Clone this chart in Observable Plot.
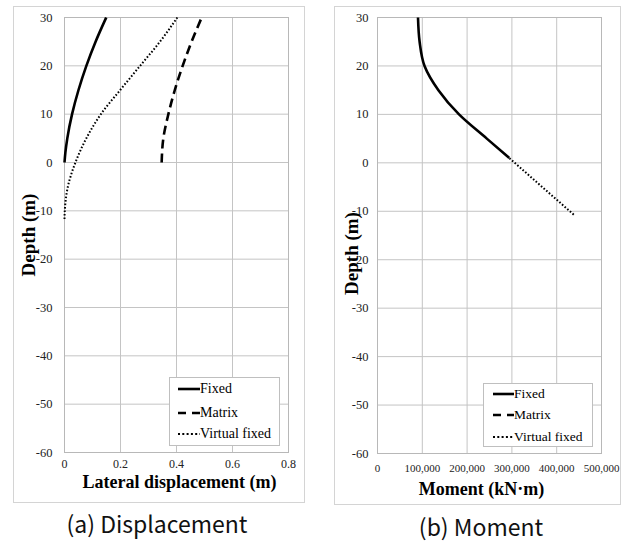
<!DOCTYPE html>
<html><head><meta charset="utf-8">
<script src="https://cdn.jsdelivr.net/npm/d3@7"></script>
<script src="https://cdn.jsdelivr.net/npm/@observablehq/plot@0.6"></script>
<style>
body{margin:0;background:#fff;}
#root{position:relative;width:632px;height:543px;overflow:hidden;background:#fff;}
.box{position:absolute;border:1px solid #d4d4d4;box-sizing:border-box;pointer-events:none;}
.panel{position:absolute;}
.panel svg text{font-family:"Liberation Serif",serif;}
.legend{position:absolute;background:#fff;border:1px solid #bfbfbf;box-sizing:border-box;font-family:"Liberation Serif",serif;color:#000;}
.legend .row{position:absolute;left:0;height:18px;margin-top:-9px;display:flex;align-items:center;white-space:nowrap;}
.caption{position:absolute;font-family:"Noto Sans CJK KR","Noto Sans",sans-serif;font-size:23px;line-height:1;color:#111;white-space:nowrap;transform:translate(-50%,-50%);}
</style>
</head><body>
<div id="root"></div>
<script>
// ---------- data ----------
const depthTicks = [-60, -50, -40, -30, -20, -10, 0, 10, 20, 30];
const dispTicks = [0, 0.2, 0.4, 0.6, 0.8];
const momentTicks = [0, 100000, 200000, 300000, 400000, 500000];
const seriesNames = ["Fixed", "Matrix", "Virtual fixed"];

// (a) displacement
const fixedA_depth = [0, 2, 5, 10, 15, 20, 25, 30];
const fixedA_disp = [0, 0.003, 0.01, 0.027, 0.05, 0.078, 0.111, 0.149];
const matrixA_depth = [0, 5, 10, 15, 20, 25, 30];
const matrixA_disp = [0.347, 0.353, 0.371, 0.394, 0.422, 0.454, 0.49];
const virtualA_depth = [-11.7, -10, -5, 0, 5, 10, 15, 20, 25, 30];
const virtualA_disp = [0, 0.001, 0.012, 0.039, 0.078, 0.13, 0.199, 0.27, 0.341, 0.403];

// (b) moment
const fixedB_depth = [1, 5, 10, 15, 20, 25, 30];
const fixedB_moment = [294000, 244000, 182000, 136000, 105000, 94000, 90400];
const virtualB_depth = [-10.7, 1];
const virtualB_moment = [438000, 294000];

// ---------- helpers ----------
const FONT = "Liberation Serif";
const styles = {
  "Fixed": {strokeWidth: 2.6, strokeDasharray: null},
  "Matrix": {strokeWidth: 2.6, strokeDasharray: "9,5"},
  "Virtual fixed": {strokeWidth: 2, strokeDasharray: "1.6,1.9"}
};
const rows = (depths, vals) => depths.map((d, i) => ({depth: d, v: vals[i]}));
const root = document.getElementById("root");

function lineMark(data, name) {
  const s = styles[name];
  return Plot.line(data, {x: "v", y: "depth", stroke: "#000", strokeWidth: s.strokeWidth,
    strokeDasharray: s.strokeDasharray, strokeLinecap: "butt", curve: "monotone-y"});
}

function makePanel(o) {
  const marks = [
    Plot.gridX(o.xTicks, {stroke: "#c4c4c4", strokeOpacity: 1}),
    Plot.gridY(depthTicks, {stroke: "#c4c4c4", strokeOpacity: 1}),
    Plot.frame({stroke: "#b8b8b8"}),
    Plot.axisX(o.xTicks, {tickSize: 0, tickPadding: o.xPad, fontSize: o.xFont, fontFamily: FONT, tickFormat: o.xFormat, label: null, fill: "#222"}),
    Plot.axisY(depthTicks, {tickSize: 0, tickPadding: o.yPad, fontSize: o.yFont, fontFamily: FONT, tickFormat: d => String(d), label: null, fill: "#222"}),
    ...o.lines,
    Plot.text([o.xTitle], {frameAnchor: "bottom", dx: o.xtDx, dy: o.xtDy, text: d => d, fontWeight: "bold", fontSize: o.xtFont, fontFamily: FONT, fill: "#000"}),
    Plot.text(["Depth (m)"], {frameAnchor: "left", textAnchor: "middle", rotate: -90, dx: o.ytDx, dy: o.ytDy, text: d => d, fontWeight: "bold", fontSize: 19, fontFamily: FONT, fill: "#000"})
  ];
  const svg = Plot.plot({
    width: o.width, height: o.height,
    marginLeft: o.ml, marginRight: o.mr, marginTop: o.mt, marginBottom: o.mb,
    x: {domain: o.xDomain},
    y: {domain: [-60, 30]},
    style: {fontFamily: FONT, background: "transparent", overflow: "visible"},
    marks
  });
  const wrap = document.createElement("div");
  wrap.className = "panel";
  wrap.style.left = o.left + "px"; wrap.style.top = o.top + "px";
  wrap.appendChild(svg);
  root.appendChild(wrap);
  const box = document.createElement("div");
  box.className = "box";
  Object.assign(box.style, {left: o.left + "px", top: o.top + "px", width: o.width + "px", height: o.height + "px"});
  root.appendChild(box);
}

function makeLegend(o) {
  const lg = document.createElement("div");
  lg.className = "legend";
  Object.assign(lg.style, {left: o.left + "px", top: o.top + "px", width: o.w + "px", height: o.h + "px", fontSize: o.font + "px"});
  seriesNames.forEach((name, i) => {
    const r = document.createElement("div");
    r.className = "row";
    r.style.top = o.rows[i] + "px";
    r.style.left = o.sx + "px";
    const dash = name === "Matrix" ? "8,6" : name === "Virtual fixed" ? "2,2.3" : "";
    r.innerHTML = `<svg width="${o.sw}" height="6" style="display:block"><line x1="0" y1="3" x2="${o.sw}" y2="3" stroke="#000" stroke-width="${name === "Virtual fixed" ? 2 : 2.6}" ${dash ? `stroke-dasharray="${dash}"` : ""}/></svg><span>${name}</span>`;
    lg.appendChild(r);
  });
  root.appendChild(lg);
}

function caption(text, x, y) {
  const c = document.createElement("div");
  c.className = "caption";
  c.textContent = text;
  c.style.left = x + "px"; c.style.top = y + "px";
  root.appendChild(c);
}

// ---------- panel (a) ----------
makePanel({
  left: 13, top: 6, width: 292, height: 497, ml: 51, mr: 17, mt: 11, mb: 51,
  xDomain: [0, 0.8], xTicks: dispTicks, xFormat: d => d === 0 ? "0" : d3.format(".1f")(d),
  xFont: 12, yFont: 12.5, xPad: 7, yPad: 12,
  xTitle: "Lateral displacement (m)", xtFont: 18, xtDx: 3, xtDy: 35, ytDx: -36, ytDy: 0,
  lines: [
    lineMark(rows(fixedA_depth, fixedA_disp), "Fixed"),
    lineMark(rows(matrixA_depth, matrixA_disp), "Matrix"),
    lineMark(rows(virtualA_depth, virtualA_disp), "Virtual fixed")
  ]
});
makeLegend({left: 169, top: 377, w: 111, h: 69, font: 14, rows: [11, 35, 56], sx: 8, sw: 22});
caption("(a) Displacement", 157, 523);

// ---------- panel (b) ----------
makePanel({
  left: 334, top: 6, width: 287, height: 499, ml: 43, mr: 20, mt: 11, mb: 52,
  xDomain: [0, 500000], xTicks: momentTicks, xFormat: d3.format(","),
  xFont: 11, yFont: 12.5, xPad: 11, yPad: 9,
  xTitle: "Moment (kN·m)", xtFont: 18, xtDx: -8, xtDy: 41, ytDx: -26, ytDy: 18,
  lines: [
    lineMark(rows(virtualB_depth, virtualB_moment), "Virtual fixed"),
    lineMark(rows(fixedB_depth, fixedB_moment), "Fixed")
  ]
});
makeLegend({left: 483, top: 383, w: 110, h: 64, font: 13.5, rows: [10, 31, 53], sx: 9, sw: 21});
caption("(b) Moment", 481, 526);
</script>
</body></html>
